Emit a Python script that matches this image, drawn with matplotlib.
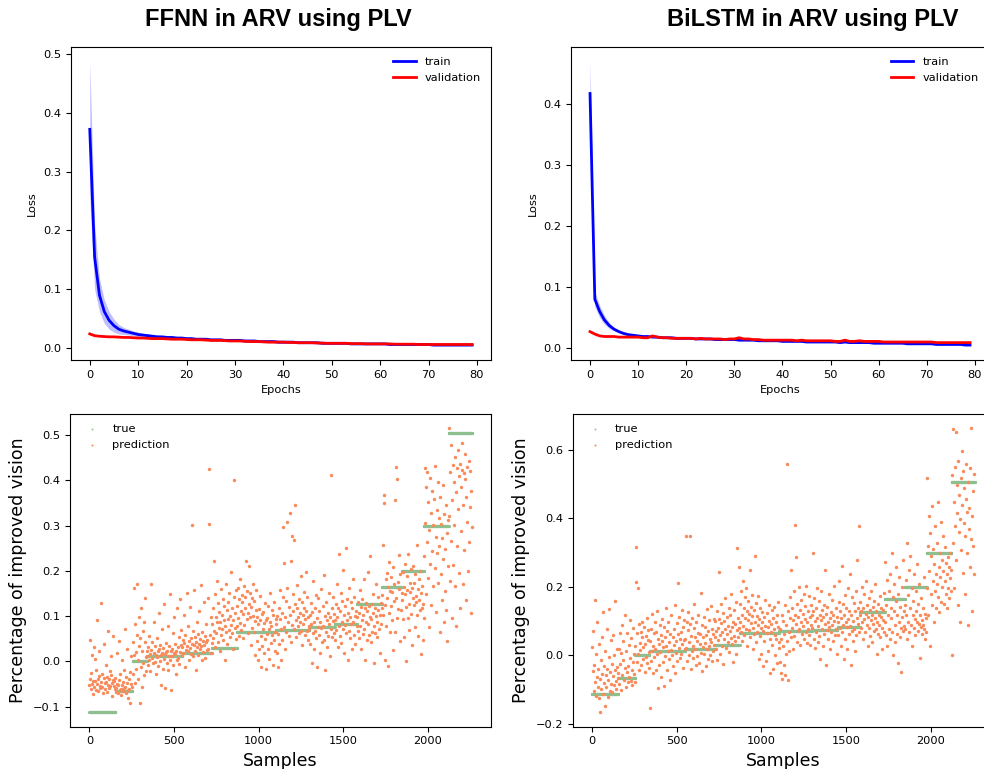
import numpy as np
import matplotlib
matplotlib.use("Agg")
import matplotlib.pyplot as plt

# loss curves (mean over folds) and spread of the training loss
ffnn_train = [0.372, 0.155, 0.090, 0.062, 0.047, 0.038, 0.032, 0.029, 0.027, 0.025,
              0.023, 0.022, 0.021, 0.020, 0.019, 0.019, 0.018, 0.018, 0.017, 0.017,
              0.016, 0.016, 0.015, 0.015, 0.015, 0.014, 0.014, 0.014, 0.013, 0.013,
              0.013, 0.013, 0.012, 0.012, 0.012, 0.011, 0.011, 0.011, 0.011, 0.010,
              0.010, 0.010, 0.010, 0.009, 0.009, 0.009, 0.009, 0.009, 0.008, 0.008,
              0.008, 0.008, 0.008, 0.008, 0.007, 0.007, 0.007, 0.007, 0.007, 0.007,
              0.007, 0.007, 0.006, 0.006, 0.006, 0.006, 0.006, 0.006, 0.006, 0.006,
              0.006, 0.005, 0.005, 0.005, 0.005, 0.005, 0.005, 0.005, 0.005, 0.005]
ffnn_train_std = [0.116, 0.055, 0.028, 0.020, 0.015, 0.011, 0.008, 0.006, 0.005, 0.004,
                  0.004, 0.003, 0.003, 0.003, 0.003, 0.002, 0.002, 0.002, 0.002, 0.002,
                  0.002, 0.002, 0.002, 0.002, 0.002, 0.002, 0.002, 0.002, 0.002, 0.002,
                  0.002, 0.002, 0.002, 0.002, 0.002, 0.002, 0.002, 0.002, 0.002, 0.002,
                  0.002, 0.002, 0.001, 0.001, 0.001, 0.001, 0.001, 0.001, 0.001, 0.001,
                  0.001, 0.001, 0.001, 0.001, 0.001, 0.001, 0.001, 0.001, 0.001, 0.001,
                  0.001, 0.001, 0.001, 0.001, 0.001, 0.001, 0.001, 0.001, 0.001, 0.001,
                  0.001, 0.001, 0.001, 0.001, 0.001, 0.001, 0.001, 0.001, 0.001, 0.001]
ffnn_val = [0.024, 0.021, 0.020, 0.0195, 0.019, 0.019, 0.0185, 0.018, 0.018, 0.0175,
            0.017, 0.017, 0.0165, 0.016, 0.016, 0.016, 0.0155, 0.015, 0.015, 0.015,
            0.0145, 0.014, 0.014, 0.014, 0.0135, 0.013, 0.013, 0.013, 0.0125, 0.012,
            0.012, 0.012, 0.0115, 0.011, 0.011, 0.011, 0.0105, 0.010, 0.010, 0.010,
            0.010, 0.0095, 0.0095, 0.009, 0.009, 0.009, 0.009, 0.0085, 0.0085, 0.008,
            0.008, 0.008, 0.008, 0.008, 0.0075, 0.0075, 0.0075, 0.007, 0.007, 0.007,
            0.007, 0.007, 0.007, 0.0065, 0.0065, 0.0065, 0.0065, 0.0065, 0.006, 0.006,
            0.006, 0.006, 0.006, 0.006, 0.006, 0.006, 0.006, 0.006, 0.006, 0.006]

bilstm_train = [0.417, 0.080, 0.060, 0.046, 0.037, 0.031, 0.027, 0.024, 0.022, 0.021,
                0.020, 0.019, 0.019, 0.018, 0.018, 0.017, 0.017, 0.017, 0.016, 0.016,
                0.016, 0.016, 0.015, 0.015, 0.015, 0.015, 0.014, 0.014, 0.014, 0.014,
                0.014, 0.013, 0.013, 0.013, 0.013, 0.012, 0.012, 0.012, 0.012, 0.012,
                0.011, 0.011, 0.011, 0.011, 0.011, 0.010, 0.010, 0.010, 0.010, 0.010,
                0.010, 0.010, 0.009, 0.010, 0.009, 0.009, 0.009, 0.009, 0.009, 0.008,
                0.008, 0.008, 0.008, 0.008, 0.008, 0.008, 0.007, 0.007, 0.007, 0.007,
                0.007, 0.007, 0.006, 0.006, 0.006, 0.006, 0.006, 0.006, 0.005, 0.005]
bilstm_train_std = [0.053, 0.012, 0.010, 0.007, 0.005, 0.003, 0.002, 0.002, 0.001, 0.001,
                    0.001, 0.001, 0.001, 0.001, 0.001, 0.001, 0.001, 0.001, 0.001, 0.001,
                    0.001, 0.001, 0.001, 0.001, 0.001, 0.001, 0.001, 0.001, 0.001, 0.001,
                    0.001, 0.001, 0.001, 0.001, 0.001, 0.001, 0.001, 0.001, 0.001, 0.001,
                    0.001, 0.001, 0.001, 0.001, 0.001, 0.001, 0.001, 0.001, 0.001, 0.001,
                    0.001, 0.001, 0.001, 0.001, 0.001, 0.001, 0.001, 0.001, 0.001, 0.001,
                    0.001, 0.001, 0.001, 0.001, 0.001, 0.001, 0.001, 0.001, 0.001, 0.001,
                    0.001, 0.001, 0.001, 0.001, 0.001, 0.001, 0.001, 0.001, 0.001, 0.001]
bilstm_val = [0.027, 0.023, 0.020, 0.019, 0.019, 0.019, 0.018, 0.018, 0.018, 0.018,
              0.018, 0.017, 0.017, 0.020, 0.018, 0.017, 0.017, 0.016, 0.016, 0.016,
              0.016, 0.016, 0.015, 0.016, 0.015, 0.015, 0.015, 0.015, 0.014, 0.015,
              0.015, 0.017, 0.015, 0.015, 0.014, 0.014, 0.013, 0.013, 0.013, 0.013,
              0.013, 0.013, 0.013, 0.012, 0.013, 0.012, 0.012, 0.012, 0.012, 0.012,
              0.012, 0.011, 0.011, 0.013, 0.011, 0.011, 0.012, 0.011, 0.011, 0.011,
              0.011, 0.010, 0.010, 0.010, 0.010, 0.010, 0.010, 0.010, 0.010, 0.010,
              0.010, 0.010, 0.009, 0.009, 0.009, 0.009, 0.009, 0.009, 0.009, 0.009]

# true values: samples sorted by target, one level per block of samples
true_levels = [-0.113, -0.065, 0.0, 0.012, 0.018, 0.03, 0.065, 0.07, 0.075, 0.082,
               0.127, 0.165, 0.2, 0.3, 0.505]
block_edges = [0, 155, 255, 340, 550, 725, 872, 1105, 1300, 1450, 1582, 1730, 1848,
               1977, 2124, 2262]

# predictions (every third sample), one list per true-value block
ffnn_pred = [
    [-0.052, -0.038, 0.047, -0.061, -0.025, 0.013, -0.049, -0.072, -0.043, 0.031, -0.057,
     -0.044, 0.006, -0.063, -0.018, -0.051, 0.092, -0.066, -0.040, -0.033, 0.022, -0.054,
     -0.059, -0.046, 0.128, -0.029, -0.056, -0.069, -0.037, 0.038, -0.048, -0.062, -0.008,
     -0.045, -0.067, -0.034, 0.068, -0.053, -0.039, -0.058, -0.021, -0.055, -0.031, 0.011,
     -0.047, -0.076, -0.042, 0.057, -0.054, -0.044, -0.036, -0.061],
    [-0.058, -0.067, -0.049, 0.018, -0.071, -0.053, -0.041, 0.046, -0.064, -0.028, -0.062,
     -0.074, -0.052, 0.003, -0.046, -0.066, -0.019, -0.059, 0.072, -0.056, -0.069, -0.034,
     -0.048, 0.027, -0.063, -0.082, -0.039, -0.061, -0.093, -0.024, -0.051, 0.012, -0.057],
    [0.042, -0.028, 0.163, 0.014, -0.047, 0.083, 0.021, -0.017, 0.171, 0.058, -0.038, 0.003,
     0.097, 0.034, -0.091, 0.052, -0.012, 0.118, 0.024, -0.057, 0.068, -0.004, 0.088, -0.031,
     0.043, 0.141, -0.022, 0.009],
    [0.012, 0.023, -0.008, 0.031, 0.002, 0.057, 0.016, -0.021, 0.026, 0.172, 0.008, 0.043,
     -0.004, 0.019, 0.087, -0.002, 0.033, -0.029, 0.014, 0.052, 0.009, 0.024, -0.011, 0.108,
     0.027, 0.001, 0.036, -0.052, 0.013, 0.071, 0.018, -0.016, 0.029, 0.006, 0.127, 0.017,
     -0.058, 0.021, 0.041, -0.003, 0.024, 0.079, -0.019, 0.011, 0.034, 0.148, 0.004, 0.022,
     -0.064, 0.028, 0.012, 0.062, -0.009, 0.019, 0.098, 0.016, 0.038, -0.027, 0.023, 0.003,
     0.117, 0.031, 0.008, 0.053, -0.006, 0.021, 0.138, 0.036, 0.069, 0.014],
    [0.032, 0.048, 0.018, 0.103, 0.041, -0.012, 0.058, 0.026, 0.152, 0.034, 0.022, 0.079,
     0.046, 0.002, 0.029, 0.121, 0.051, 0.017, 0.302, 0.038, 0.068, 0.012, 0.037, 0.158, 0.024,
     0.053, -0.018, 0.043, 0.088, 0.031, 0.061, 0.014, 0.112, 0.039, 0.027, 0.049, 0.168, 0.033,
     0.003, 0.064, 0.044, 0.021, 0.131, 0.036, 0.056, 0.008, 0.042, 0.082, 0.026, 0.047, 0.141,
     0.028, 0.304, 0.426, 0.059, 0.019, 0.097, 0.041],
    [0.083, 0.118, 0.052, 0.221, 0.068, 0.149, 0.031, 0.097, 0.063, 0.178, 0.088, 0.042, 0.128,
     0.074, 0.109, 0.022, 0.086, 0.161, 0.058, 0.103, 0.071, 0.138, 0.048, 0.122, 0.092, 0.003,
     0.079, 0.171, 0.066, 0.113, 0.038, 0.094, 0.132, 0.069, 0.152, 0.054, 0.101, 0.198, 0.081,
     0.062, 0.117, 0.028, 0.091, 0.401, 0.142, 0.073, 0.108, 0.049, 0.158],
    [0.078, 0.123, 0.096, 0.162, 0.057, 0.138, 0.085, 0.183, 0.112, 0.069, 0.131, 0.146, 0.052,
     0.104, 0.167, 0.081, 0.119, 0.143, 0.222, 0.093, 0.155, 0.108, 0.063, 0.127, 0.211, 0.097,
     0.151, 0.036, 0.121, 0.074, 0.139, 0.172, 0.101, 0.066, 0.133, 0.015, 0.089, 0.113, 0.158,
     0.045, 0.099, 0.002, 0.082, 0.116, 0.027, 0.091, 0.144, 0.057, -0.012, 0.104, 0.034, 0.072,
     0.109, 0.019, 0.084, 0.128, 0.049, -0.016, 0.092, 0.061, 0.095, 0.028, 0.122, 0.071, 0.006,
     0.088, 0.152, 0.041, 0.079, 0.114, 0.058, -0.008, 0.102, 0.047, 0.131, 0.065, 0.023, 0.093],
    [0.082, 0.018, 0.101, -0.012, 0.061, 0.118, 0.038, 0.093, 0.158, 0.003, 0.072, 0.108, 0.047,
     0.298, 0.142, 0.077, 0.218, 0.028, 0.097, 0.133, 0.066, 0.307, 0.162, 0.088, 0.057, 0.121,
     0.328, 0.103, 0.222, 0.042, 0.081, 0.278, 0.148, 0.112, 0.269, 0.071, 0.127, 0.346, 0.091,
     0.053, 0.118, 0.168, 0.078, 0.098, 0.138, 0.062, 0.107, 0.086, 0.188, 0.068, 0.132, 0.037,
     0.102, 0.083, 0.153, 0.117, 0.058, 0.094, 0.197, 0.111, 0.067, 0.143, 0.048, 0.099, 0.079],
    [0.071, 0.102, 0.038, 0.128, 0.083, -0.003, 0.109, 0.062, 0.178, 0.088, 0.027, 0.118, 0.068,
     0.147, 0.051, 0.096, -0.012, 0.077, 0.139, 0.058, 0.112, 0.018, 0.087, 0.161, 0.073, 0.042,
     0.123, 0.079, 0.192, 0.048, 0.101, -0.019, 0.066, 0.132, 0.092, 0.031, 0.107, 0.057, 0.152,
     0.082, 0.011, 0.098, 0.072, 0.412, 0.117, 0.053, 0.089, 0.142, 0.063, 0.104],
    [0.091, 0.048, 0.127, 0.069, 0.172, 0.098, 0.032, 0.118, 0.078, 0.238, 0.057, 0.112, 0.151,
     0.041, 0.087, 0.133, 0.072, 0.201, 0.103, 0.018, 0.122, 0.081, 0.251, 0.063, 0.138, 0.092,
     0.004, 0.108, 0.068, 0.162, 0.052, 0.097, 0.131, 0.083, 0.028, 0.117, 0.182, 0.088, 0.059,
     0.143, 0.101, 0.038, 0.112, 0.079],
    [0.098, 0.068, 0.131, 0.052, 0.108, 0.158, 0.078, 0.121, 0.028, 0.091, 0.138, 0.061, 0.103,
     0.182, 0.071, 0.118, 0.003, 0.088, 0.128, 0.048, 0.112, 0.198, 0.082, 0.058, 0.123, 0.232,
     0.097, 0.042, 0.093, 0.127, 0.066, 0.148, 0.107, -0.004, 0.079, 0.119, 0.062, 0.101, 0.171,
     0.087, 0.053, 0.113, 0.142, 0.072, 0.018, 0.102, 0.128, 0.083, 0.117],
    [0.146, 0.103, 0.257, 0.368, 0.351, 0.124, 0.002, 0.183, 0.079, 0.196, 0.141, -0.011, 0.165,
     0.107, 0.219, 0.064, 0.155, 0.122, 0.187, 0.091, 0.153, 0.026, 0.209, 0.134, 0.171, 0.065,
     0.357, 0.139, 0.429, 0.404, 0.096, 0.176, 0.115, 0.236, 0.161, 0.045, 0.193, 0.113, 0.152],
    [0.136, 0.197, 0.093, 0.165, 0.054, 0.149, 0.216, 0.121, 0.001, 0.157, 0.189, 0.095, 0.237,
     0.126, 0.069, 0.174, 0.153, 0.204, 0.105, 0.163, 0.036, 0.141, 0.211, 0.124, 0.173, 0.076,
     0.194, 0.145, 0.131, 0.257, 0.103, 0.159, 0.055, 0.181, 0.135, 0.199, 0.114, 0.017, 0.152,
     0.119, 0.166, 0.047, 0.127],
    [0.096, 0.233, 0.427, 0.305, 0.149, 0.386, 0.264, 0.419, 0.185, 0.353, 0.077, 0.291, 0.406,
     0.215, 0.329, 0.125, 0.376, 0.244, 0.301, 0.167, 0.359, 0.206, 0.431, 0.276, 0.109, 0.335,
     0.239, 0.397, 0.174, 0.316, 0.255, 0.066, 0.364, 0.193, 0.304, 0.135, 0.273, 0.389, 0.226,
     0.087, 0.325, 0.156, 0.249, 0.346, 0.114, 0.283, 0.046, 0.211, 0.313],
    [0.516, 0.322, 0.177, 0.419, 0.265, 0.479, 0.096, 0.356, 0.433, 0.214, 0.397, 0.301, 0.166,
     0.451, 0.375, 0.079, 0.427, 0.254, 0.468, 0.336, 0.409, 0.195, 0.437, 0.117, 0.386, 0.289,
     0.424, 0.483, 0.171, 0.345, 0.416, 0.246, 0.459, 0.403, 0.135, 0.364, 0.429, 0.307, 0.199,
     0.443, 0.263, 0.421, 0.341, 0.106, 0.377, 0.296],
]

bilstm_pred = [
    [0.023, -0.046, 0.071, -0.104, -0.028, 0.162, -0.077, -0.119, 0.005, -0.063, 0.098, -0.092,
     -0.041, -0.126, 0.034, -0.068, -0.167, -0.015, -0.099, 0.052, -0.054, -0.113, 0.127,
     -0.081, -0.032, -0.148, 0.013, -0.057, -0.094, 0.076, -0.039, -0.121, -0.072, 0.136,
     -0.006, -0.103, -0.049, 0.044, -0.085, -0.108, -0.024, 0.059, -0.061, -0.087, 0.002,
     -0.043, 0.158, -0.074, -0.097, -0.035, 0.018, -0.065],
    [-0.052, 0.017, -0.083, 0.064, -0.026, -0.101, 0.006, 0.089, -0.058, -0.014, 0.043, -0.071,
     0.118, -0.037, -0.092, 0.012, -0.049, 0.066, -0.031, -0.078, 0.029, -0.064, 0.103, -0.008,
     -0.075, 0.051, -0.044, -0.086, 0.081, -0.019, -0.055, 0.003, -0.079],
    [0.026, 0.317, 0.213, -0.019, 0.064, 0.198, 0.004, 0.091, -0.042, 0.037, 0.015, 0.068,
     -0.027, 0.053, 0.096, -0.011, 0.024, 0.082, -0.048, 0.033, 0.057, -0.004, 0.108, -0.023,
     0.045, 0.073, 0.009, -0.036],
    [-0.153, 0.041, -0.017, 0.076, 0.012, 0.121, -0.053, 0.028, 0.064, -0.006, 0.097, 0.019,
     -0.042, 0.069, 0.003, 0.128, -0.096, 0.047, 0.034, -0.029, 0.088, 0.011, 0.059, -0.062,
     0.043, 0.105, -0.021, 0.024, 0.083, -0.089, 0.052, -0.003, 0.139, 0.027, -0.044, 0.071,
     0.014, 0.098, -0.012, 0.039, 0.063, -0.073, 0.016, 0.119, 0.001, 0.054, -0.032, 0.078,
     0.029, 0.148, -0.051, 0.042, 0.007, 0.093, -0.018, 0.061, 0.212, 0.022, 0.111, -0.009,
     0.048, 0.067, 0.004, 0.132, 0.033, -0.038, 0.084, 0.045, 0.102, 0.018],
    [0.049, 0.349, 0.021, 0.097, -0.016, 0.073, 0.126, 0.002, 0.038, 0.347, 0.091, -0.041,
     0.057, 0.013, 0.109, 0.028, -0.007, 0.079, 0.151, 0.017, 0.052, -0.029, 0.098, 0.043,
     -0.002, 0.066, 0.119, -0.023, 0.032, 0.062, 0.181, 0.008, 0.089, -0.047, 0.053, 0.024,
     0.113, 0.005, 0.036, 0.082, -0.031, 0.058, 0.134, 0.019, 0.071, -0.012, 0.027, 0.104,
     0.048, 0.001, 0.143, 0.039, -0.018, 0.077, 0.014, 0.063, 0.107, 0.031],
    [0.054, 0.099, 0.018, 0.072, 0.128, -0.013, 0.081, 0.044, 0.242, 0.106, 0.058, 0.003, 0.094,
     0.149, 0.027, 0.069, 0.123, -0.026, 0.047, 0.101, 0.076, 0.168, 0.021, 0.063, 0.112, 0.039,
     0.087, 0.137, 0.009, 0.072, 0.118, 0.051, 0.179, 0.032, 0.083, -0.019, 0.098, 0.057, 0.133,
     0.041, 0.092, 0.156, 0.004, 0.074, 0.312, 0.108, 0.053, 0.258, 0.079],
    [0.096, 0.151, 0.068, 0.189, 0.117, 0.042, 0.216, 0.087, 0.139, 0.059, 0.171, 0.108, 0.076,
     0.198, 0.129, 0.027, 0.103, 0.158, 0.073, 0.121, 0.248, 0.052, 0.142, 0.093, 0.176, 0.114,
     0.018, 0.081, 0.133, 0.062, 0.289, 0.097, 0.152, 0.039, 0.116, 0.068, 0.173, 0.089, -0.011,
     0.107, 0.056, 0.138, 0.079, 0.003, 0.098, 0.127, -0.032, 0.071, 0.112, 0.043, 0.161, 0.086,
     -0.018, 0.064, 0.123, 0.082, 0.012, 0.101, 0.148, 0.047, -0.052, 0.091, 0.069, 0.131,
     0.029, 0.109, -0.041, 0.077, 0.142, 0.058, 0.002, 0.097, 0.048, 0.118, -0.023, 0.083,
     0.157, 0.038],
    [0.022, -0.019, 0.078, -0.052, 0.049, 0.117, -0.068, 0.028, 0.099, -0.027, 0.063, 0.148,
     -0.057, 0.004, 0.088, 0.558, 0.042, 0.129, -0.071, 0.067, 0.013, 0.108, 0.169, 0.053,
     0.248, 0.081, 0.138, 0.018, 0.102, 0.187, 0.057, 0.382, 0.119, 0.091, 0.288, 0.039, 0.151,
     0.072, 0.113, 0.199, 0.078, 0.132, 0.029, 0.097, 0.162, 0.061, 0.121, 0.087, 0.178, 0.048,
     0.106, 0.143, 0.069, 0.202, 0.098, 0.037, 0.128, 0.076, 0.172, 0.059, 0.112, 0.031, 0.147,
     0.089, 0.118],
    [0.079, 0.128, 0.298, 0.048, 0.167, 0.099, 0.022, 0.138, 0.069, 0.197, 0.108, 0.038, 0.087,
     0.159, 0.057, 0.118, -0.012, 0.102, 0.188, 0.077, 0.133, 0.027, 0.112, 0.148, 0.062, 0.249,
     0.091, 0.122, -0.028, 0.073, 0.141, 0.098, 0.047, 0.178, 0.082, 0.109, 0.018, 0.127, 0.068,
     0.162, 0.088, 0.041, 0.117, 0.099, 0.201, 0.058, 0.139, 0.078, 0.003, 0.111],
    [0.098, 0.058, 0.157, 0.218, 0.079, 0.128, 0.027, 0.109, 0.262, 0.068, 0.149, 0.088, -0.011,
     0.118, 0.177, 0.049, 0.097, 0.138, 0.018, 0.082, 0.198, 0.107, 0.061, 0.129, 0.238, 0.087,
     -0.028, 0.117, 0.072, 0.169, 0.042, 0.101, 0.152, 0.078, 0.013, 0.128, 0.188, 0.059, 0.108,
     0.279, 0.092, 0.139, 0.378, 0.069],
    [0.118, 0.157, 0.079, 0.128, 0.199, 0.097, 0.048, 0.139, 0.107, 0.178, 0.068, 0.121, 0.218,
     0.089, 0.147, 0.028, 0.112, 0.168, 0.081, 0.133, 0.057, 0.102, 0.187, 0.119, 0.038, 0.142,
     0.092, 0.158, 0.071, 0.109, 0.208, 0.077, 0.129, 0.003, 0.098, 0.151, 0.062, 0.117, 0.088,
     0.172, 0.053, 0.111, 0.138, 0.079, 0.017, 0.103, 0.131, 0.068, 0.182],
    [0.096, 0.272, 0.059, 0.148, 0.221, 0.028, 0.117, 0.189, 0.078, 0.238, 0.049, 0.137, 0.108,
     0.298, 0.067, 0.169, 0.002, 0.128, 0.207, 0.088, 0.039, 0.158, 0.258, 0.061, 0.119, -0.022,
     0.178, 0.097, 0.228, 0.052, 0.141, 0.079, -0.048, 0.199, 0.112, 0.071, 0.278, 0.129, 0.087],
    [0.148, 0.077, 0.219, 0.118, 0.328, 0.049, 0.177, 0.098, 0.248, 0.067, 0.138, 0.289, 0.088,
     0.197, 0.028, 0.117, 0.159, 0.081, 0.238, 0.107, 0.058, 0.189, 0.128, 0.097, 0.268, 0.072,
     0.149, 0.091, 0.208, 0.118, -0.008, 0.083, 0.167, 0.102, 0.063, 0.137, 0.089, 0.228, 0.078,
     0.122, 0.047, 0.109, 0.068],
    [0.518, 0.197, 0.318, 0.119, 0.408, 0.247, 0.028, 0.357, 0.178, 0.289, 0.148, 0.437, 0.218,
     0.309, 0.098, 0.267, 0.378, 0.189, 0.238, 0.137, 0.328, 0.207, 0.448, 0.169, 0.258, 0.127,
     0.298, 0.229, 0.388, 0.157, 0.278, 0.199, 0.348, 0.247, 0.149, 0.218, 0.317, 0.178, 0.269,
     0.138, 0.237, 0.288, 0.197, 0.259, 0.168, 0.227, 0.299, 0.188, 0.248],
    [0.002, 0.528, 0.329, 0.662, 0.448, 0.197, 0.549, 0.378, 0.652, 0.279, 0.498, 0.417, 0.148,
     0.568, 0.359, 0.467, 0.098, 0.399, 0.518, 0.308, 0.597, 0.438, 0.239, 0.538, 0.387, 0.488,
     0.349, 0.178, 0.457, 0.558, 0.299, 0.418, 0.088, 0.507, 0.368, 0.429, 0.258, 0.547, 0.339,
     0.664, 0.408, 0.128, 0.479, 0.318, 0.529, 0.238],
]

TICK = 8.2
fig = plt.figure(figsize=(9.84, 7.69), dpi=100)

ax_tl = fig.add_axes([0.0718, 0.532, 0.4274, 0.407])
ax_tr = fig.add_axes([0.5803, 0.532, 0.4248, 0.407])
ax_bl = fig.add_axes([0.0714, 0.055, 0.4276, 0.407])
ax_br = fig.add_axes([0.5823, 0.055, 0.4278, 0.407])


def loss_panel(ax, train, train_std, val):
    epochs = np.arange(len(train))
    train = np.array(train)
    std = np.array(train_std)
    ax.fill_between(epochs, train - std, train + std, color="blue", alpha=0.25, linewidth=0)
    ax.plot(epochs, train, color="blue", lw=2, label="train")
    ax.plot(epochs, val, color="red", lw=2, label="validation")
    ax.set_xlabel("Epochs", fontsize=TICK)
    ax.set_ylabel("Loss", fontsize=TICK)
    ax.tick_params(labelsize=TICK)
    ax.legend(loc="upper right", frameon=False, fontsize=TICK)


def pred_panel(ax, pred):
    counts = np.diff(block_edges)
    samples = np.arange(block_edges[-1])
    ax.scatter(samples, np.repeat(true_levels, counts), s=5, color="#8dbf8f",
               linewidths=0, label="true")
    xs, ys = [], []
    for i, vals in enumerate(pred):
        xs.append(np.linspace(block_edges[i], block_edges[i + 1], len(vals), endpoint=False))
        ys.append(vals)
    ax.scatter(np.concatenate(xs), np.concatenate(ys), s=6, color="#f98a5a",
               linewidths=0, label="prediction")
    ax.set_xlabel("Samples", fontsize=12.5)
    ax.set_ylabel("Percentage of improved vision", fontsize=12.5)
    ax.tick_params(labelsize=TICK)
    ax.legend(loc="upper left", frameon=False, fontsize=TICK, markerscale=0.6)


loss_panel(ax_tl, ffnn_train, ffnn_train_std, ffnn_val)
loss_panel(ax_tr, bilstm_train, bilstm_train_std, bilstm_val)
pred_panel(ax_bl, ffnn_pred)
pred_panel(ax_br, bilstm_pred)

fig.text(0.283, 0.974, "FFNN in ARV using PLV", ha="center", va="center",
         fontsize=17, fontweight="bold", family="Liberation Sans")
fig.text(0.8257, 0.974, "BiLSTM in ARV using PLV", ha="center", va="center",
         fontsize=17, fontweight="bold", family="Liberation Sans")

fig.savefig("out.png", dpi=100)
